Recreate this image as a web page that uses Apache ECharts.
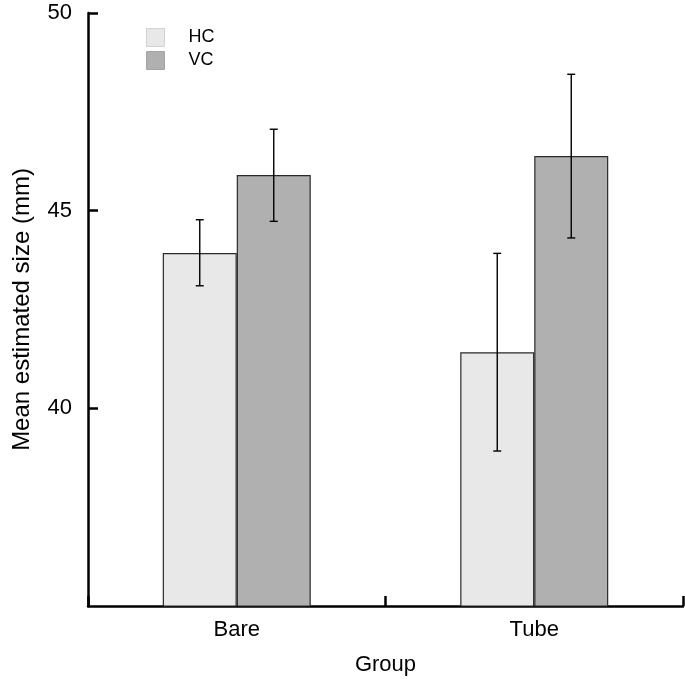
<!DOCTYPE html>
<html><head><meta charset="utf-8">
<script src="https://cdn.jsdelivr.net/npm/echarts@6/dist/echarts.min.js"></script>
<style>html,body{margin:0;padding:0;background:#fff}#c{width:685px;height:679px}</style>
</head><body><div id="c"></div>
<script>
const categories = ['Bare', 'Tube'];
const seriesNames = ['HC', 'VC'];
const hcMean = [43.93, 41.42];
const hcLow = [43.10, 38.92];
const hcHigh = [44.77, 43.92];
const vcMean = [45.90, 46.38];
const vcLow = [44.73, 44.31];
const vcHigh = [47.06, 48.45];
const yTicks = [35, 40, 45, 50];

const FONT = 'Liberation Sans';
const chart = echarts.init(document.getElementById('c'));
const BAR_W = 74;

function errSeries(low, high, offsetIdx) {
  return {
    type: 'custom',
    z: 10,
    silent: true,
    data: categories.map((c, i) => [i, low[i], high[i]]),
    renderItem: function (params, api) {
      const i = api.value(0);
      const pLow = api.coord([i, api.value(1)]);
      const pHigh = api.coord([i, api.value(2)]);
      const x = pLow[0] + (offsetIdx === 0 ? -BAR_W / 2 : BAR_W / 2);
      const cap = 4;
      const st = { stroke: '#000', lineWidth: 1.4 };
      return {
        type: 'group',
        children: [
          { type: 'line', shape: { x1: x, y1: pLow[1], x2: x, y2: pHigh[1] }, style: st },
          { type: 'line', shape: { x1: x - cap, y1: pLow[1], x2: x + cap, y2: pLow[1] }, style: st },
          { type: 'line', shape: { x1: x - cap, y1: pHigh[1], x2: x + cap, y2: pHigh[1] }, style: st }
        ]
      };
    }
  };
}

const legendText = { fontFamily: FONT, fontSize: 18, color: '#000', padding: [0, 0, 0, 19] };

chart.setOption({
  animation: false,
  textStyle: { fontFamily: FONT },
  grid: { left: 88, right: 2, top: 13, bottom: 73, containLabel: false, outerBoundsMode: 'none' },
  legend: {
    left: 146, top: 28, padding: 0, orient: 'vertical', itemWidth: 18, itemHeight: 18, itemGap: 4,
    textStyle: legendText,
    data: [
      { name: 'HC', icon: 'rect', textStyle: legendText, itemStyle: { color: '#e8e8e8', borderColor: '#d2d2d2', borderWidth: 1 } },
      { name: 'VC', icon: 'rect', textStyle: legendText, itemStyle: { color: '#b0b0b0', borderColor: '#a3a3a3', borderWidth: 1 } }
    ]
  },
  xAxis: {
    type: 'category',
    data: categories,
    name: 'Group',
    nameLocation: 'middle',
    nameGap: 48,
    nameTextStyle: { fontFamily: FONT, fontSize: 22, color: '#000' },
    axisLine: { show: true, lineStyle: { color: '#000', width: 2.5 } },
    axisTick: { show: true, inside: true, length: 10, lineStyle: { color: '#000', width: 2.5 } },
    axisLabel: { fontFamily: FONT, fontSize: 22, color: '#000', margin: 13 }
  },
  yAxis: {
    type: 'value',
    min: yTicks[0], max: yTicks[yTicks.length - 1], interval: 5,
    name: 'Mean estimated size (mm)',
    nameLocation: 'middle',
    nameGap: 54,
    nameTextStyle: { fontFamily: FONT, fontSize: 24, color: '#000' },
    axisLine: { show: true, lineStyle: { color: '#000', width: 2.5 } },
    axisTick: { show: true, inside: true, length: 10, lineStyle: { color: '#000', width: 2.5 } },
    axisLabel: { fontFamily: FONT, fontSize: 22, color: '#000', margin: 16, showMinLabel: false },
    splitLine: { show: false }
  },
  series: [
    { name: 'HC', type: 'bar', data: hcMean, barWidth: BAR_W, barGap: '0%',
      itemStyle: { color: '#e8e8e8', borderColor: '#2a2a2a', borderWidth: 1.2 } },
    { name: 'VC', type: 'bar', data: vcMean, barWidth: BAR_W, barGap: '0%',
      itemStyle: { color: '#b0b0b0', borderColor: '#2a2a2a', borderWidth: 1.2 } },
    errSeries(hcLow, hcHigh, 0),
    errSeries(vcLow, vcHigh, 1)
  ]
});
</script></body></html>
